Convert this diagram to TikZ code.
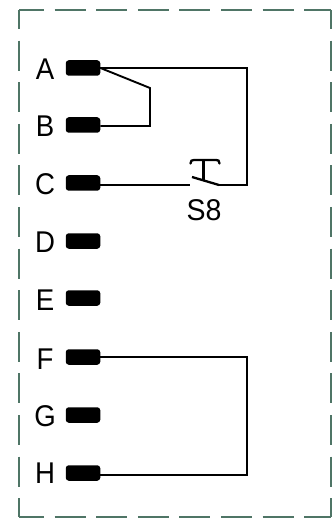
\documentclass[tikz,border=0pt]{standalone}
\usepackage{fontspec}
\setmainfont{Liberation Sans}
\newfontfamily\lblfont[FakeStretch=0.92]{Liberation Sans}
\newfontfamily\swfont[FakeStretch=0.95]{Liberation Sans}
\tikzset{
  pin/.style={draw=none,fill=black,rounded corners=3pt,minimum width=34.5pt,minimum height=15.5pt,inner sep=0pt},
  wire/.style={draw=black,line width=1.9pt,line join=miter},
  thinwire/.style={draw=black,line width=1.5pt,line join=miter},
  frameside/.style={draw=framegreen,line width=1.8pt},
  lbl/.style={inner sep=0pt,font=\lblfont\fontsize{30}{30}\selectfont,text=black},
  swlbl/.style={inner sep=0pt,font=\swfont\fontsize{30}{30}\selectfont,text=black}
}
\definecolor{framegreen}{HTML}{4F7566}
\begin{document}
\begin{tikzpicture}[x=1pt,y=-1pt]
\useasboundingbox (0,0) rectangle (335,518);
% dashed frame
\coordinate (tl) at (19,10);
\coordinate (tr) at (331,10);
\coordinate (bl) at (19,517);
\coordinate (br) at (331,517);
\draw[frameside,dash pattern=on 31pt off 10.6pt,dash phase=6pt] (tl) -- (tr);
\draw[frameside,dash pattern=on 31pt off 10.6pt,dash phase=6pt] (bl) -- (br);
\draw[frameside,dash pattern=on 30pt off 11.6pt,dash phase=11pt] (tl) -- (bl);
\draw[frameside,dash pattern=on 30pt off 11.6pt,dash phase=11pt] (tr) -- (br);
% pins
\node[pin] (pA) at (83,68) {};
\node[pin] (pB) at (83,125) {};
\node[pin] (pC) at (83,183) {};
\node[pin] (pD) at (83,241) {};
\node[pin] (pE) at (83,298) {};
\node[pin] (pF) at (83,357) {};
\node[pin] (pG) at (83,415) {};
\node[pin] (pH) at (83,473) {};
% labels
\node[lbl] (lA) at (45,69) {A};
\node[lbl] (lB) at (45,126) {B};
\node[lbl] (lC) at (45,184) {C};
\node[lbl] (lD) at (45,242) {D};
\node[lbl] (lE) at (45,300) {E};
\node[lbl] (lF) at (45,359) {F};
\node[lbl] (lG) at (45,416) {G};
\node[lbl] (lH) at (45,473) {H};
\node[swlbl] (lS) at (204,210) {S8};
% junctions
\coordinate (ab) at (150,88);
\coordinate (bb) at (150,126);
\coordinate (at) at (247,68);
\coordinate (sr) at (247,185);
\coordinate (sa) at (190,185);
\coordinate (bl1) at (192,177);
\coordinate (bl2) at (219,185);
\coordinate (st) at (203.5,159.5);
\coordinate (sb) at (203.5,180);
\coordinate (fr) at (247,357);
\coordinate (hr) at (247,475);
% wires
\draw[wire] (pA.east) -- (at) -- (sr) -- (bl2);
\draw[wire] (pA.east) -- (ab) -- (bb) -- (pB.east |- bb);
\draw[thinwire] (pC.east |- sa) -- (sa);
\draw[wire,line width=2.3pt] (bl1) -- (bl2);
\draw[wire,line width=2.3pt] (sb) -- (st);
\draw[wire,line width=2.3pt,line cap=round] (190.5,163.5) .. controls (190.5,160.5) and (192,160) .. (194,160) -- (216,160) .. controls (218,160) and (219.5,160.5) .. (219.5,163.5);
\draw[wire] (pF.east) -- (fr) -- (hr) -- (pH.east |- hr);
\end{tikzpicture}
\end{document}
